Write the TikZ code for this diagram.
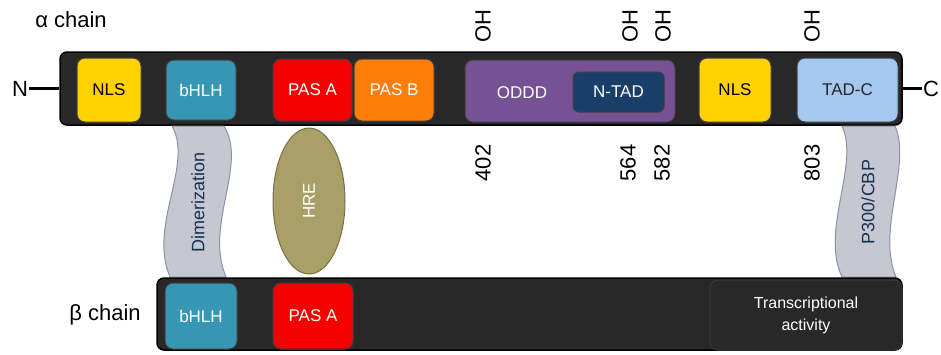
\documentclass[tikz,border=0pt]{standalone}
\usepackage{fontspec}
\setmainfont{Liberation Sans}
\usetikzlibrary{shapes.geometric}
\definecolor{barclr}{RGB}{40,40,40}
\definecolor{nlsclr}{RGB}{255,210,0}
\definecolor{bhlhclr}{RGB}{55,150,180}
\definecolor{pasaclr}{RGB}{245,0,0}
\definecolor{pasbclr}{RGB}{255,125,10}
\definecolor{odddclr}{RGB}{118,82,148}
\definecolor{ntadclr}{RGB}{25,62,105}
\definecolor{tadcclr}{RGB}{165,200,240}
\definecolor{bandclr}{RGB}{198,199,208}
\definecolor{bandedge}{RGB}{140,145,165}
\definecolor{hreclr}{RGB}{168,160,102}

\begin{document}
\begin{tikzpicture}[x=1pt,y=-1pt,
    dom/.style={rounded corners=8pt, draw=black!75, line width=1pt, inner sep=0pt,
      font=\fontsize{17}{20}\selectfont},
    bar/.style={rounded corners=7pt, fill=barclr, draw=black, line width=1.5pt},
    big/.style={inner sep=1pt, font=\fontsize{22}{24}\selectfont},
    band/.style={fill=bandclr, draw=bandedge, line width=1pt},
    bandtxt/.style={rotate=90, text=ntadclr!80!black, font=\fontsize{18}{20}\selectfont}]
    \useasboundingbox (0,0) rectangle (941,354);

    % alpha chain
    \node[big] (alphalab) at (71,20) {α chain};
    \node[bar, minimum width=842pt, minimum height=73pt] (alpha) at (481,88.5) {};
    \node[big] (nterm) at (20,88.5) {N};
    \node[big] (cterm) at (931,88.5) {C};
    \draw[line width=2.5pt] (nterm.east) -- (alpha.west);
    \draw[line width=2.5pt] (alpha.east) -- (cterm.west);

    \node[dom, fill=nlsclr, minimum width=64pt, minimum height=64pt] (nls1) at (109,90) {NLS};
    \node[dom, fill=bhlhclr, text=white, minimum width=70pt, minimum height=60pt] (bhlh1) at (201,90) {bHLH};
    \node[dom, fill=pasaclr, text=white, minimum width=79pt, minimum height=62pt] (pasa1) at (312.5,90) {PAS A};
    \node[dom, fill=pasbclr, text=white, minimum width=80pt, minimum height=62pt] (pasb) at (394,90) {PAS B};
    \node[dom, fill=odddclr, minimum width=210pt, minimum height=62pt] (oddd) at (570,91) {};
    \node[text=white, font=\fontsize{17}{20}\selectfont] (odddlab) at (522,93) {ODDD};
    \node[dom, fill=ntadclr, text=white, rounded corners=6pt, minimum width=91pt, minimum height=40pt] (ntad) at (618.5,92) {N-TAD};
    \node[dom, fill=nlsclr, minimum width=72pt, minimum height=64pt] (nls2) at (735,90) {NLS};
    \node[dom, fill=tadcclr, text=black!85, minimum width=101pt, minimum height=64pt] (tadc) at (847.5,90) {TAD-C};

    % hydroxylation sites
    \node[big, rotate=90] (oh1) at (483,26) {OH};
    \node[big, rotate=90] (oh2) at (630,26) {OH};
    \node[big, rotate=90] (oh3) at (663,26) {OH};
    \node[big, rotate=90] (oh4) at (812,26) {OH};
    \node[big, rotate=90] (pos1) at (483,163) {402};
    \node[big, rotate=90] (pos2) at (628,163) {564};
    \node[big, rotate=90] (pos3) at (662,163) {582};
    \node[big, rotate=90] (pos4) at (812,163) {803};

    % bands between the chains
    \draw[band] (172,126) .. controls (194,165) and (148,225) .. (170,277)
      -- (226,277) .. controls (204,225) and (248,165) .. (224,126) -- cycle;
    \node[bandtxt] (dimer) at (198,202) {Dimerization};
    \draw[band] (842,126) .. controls (860,165) and (820,230) .. (842,277)
      -- (896,277) .. controls (876,230) and (912,165) .. (895,126) -- cycle;
    \node[bandtxt] (p300) at (868,202) {P300/CBP};
    \node[ellipse, rotate=90, fill=hreclr, draw=hreclr!70!black, line width=1pt, text=white,
      minimum width=146pt, minimum height=72pt, inner sep=0pt,
      font=\fontsize{17}{20}\selectfont] (hre) at (309,201) {HRE};

    % beta chain
    \node[big] (betalab) at (105,315) {β chain};
    \node[bar, minimum width=745pt, minimum height=72pt] (beta) at (529.5,314) {};
    \node[dom, fill=bhlhclr, text=white, minimum width=72pt, minimum height=66pt] (bhlh2) at (201,316) {bHLH};
    \node[dom, fill=pasaclr, text=white, minimum width=80pt, minimum height=66pt] (pasa2) at (313,316) {PAS A};
    \node[dom, fill=barclr, draw=gray!45!black, text=white, align=center, minimum width=192pt, minimum height=70pt,
      font=\fontsize{16}{22}\selectfont] (tact) at (806,315) {Transcriptional\\activity};
\end{tikzpicture}
\end{document}
